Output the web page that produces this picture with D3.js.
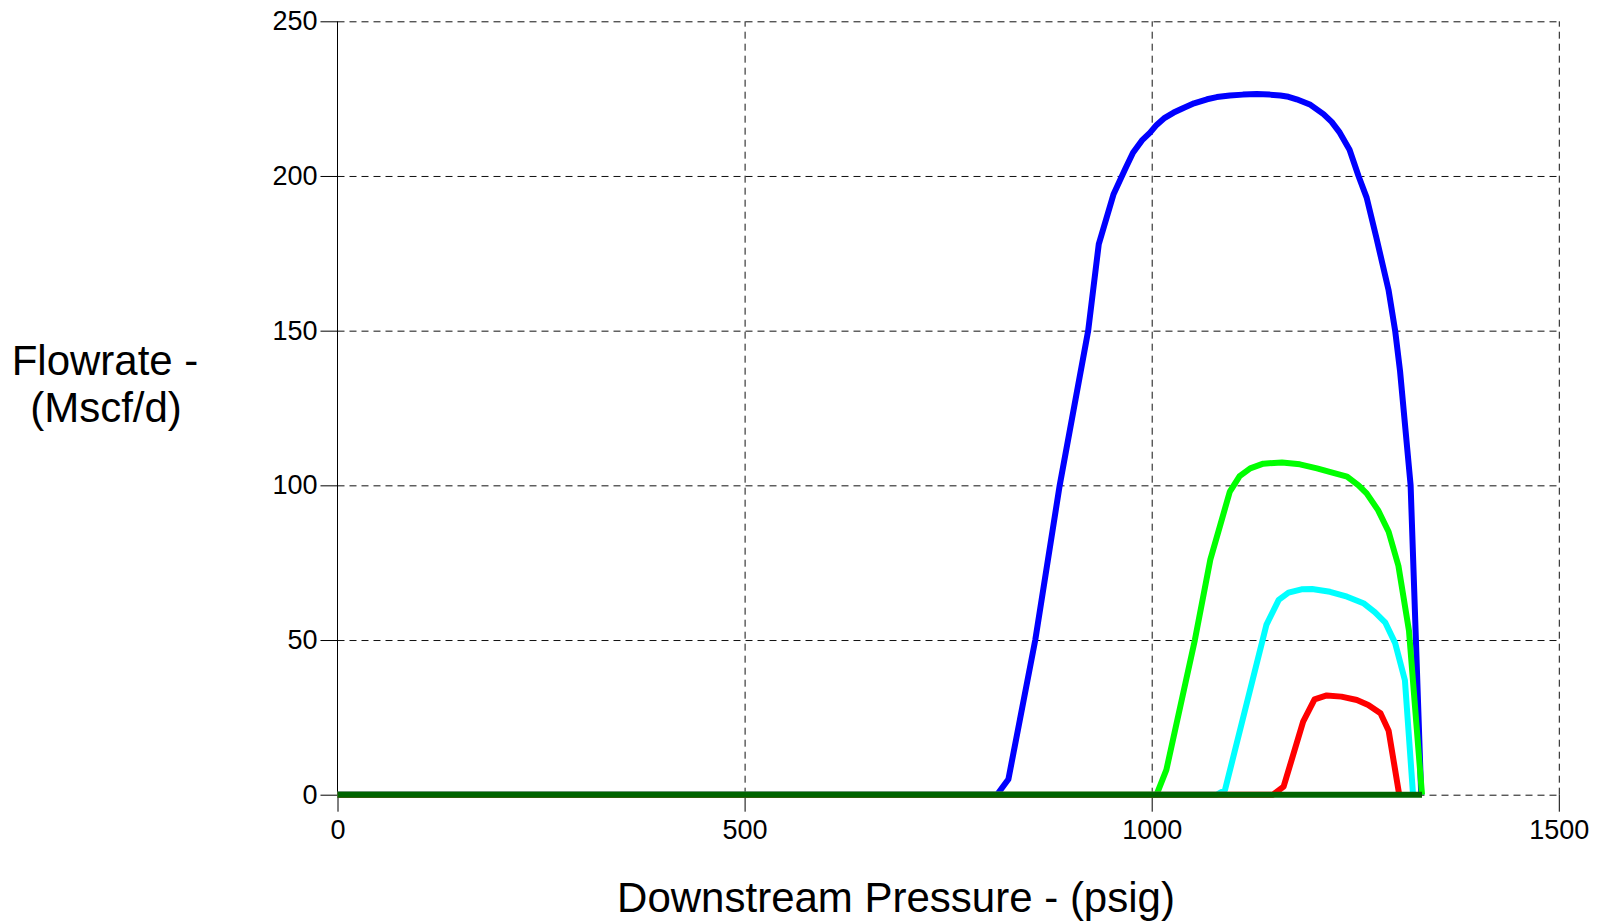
<!DOCTYPE html>
<meta charset="utf-8">
<title>Flowrate vs downstream pressure</title>
<style>

body {
  margin: 0;
  background: #fff;
}

text {
  font-family: "Liberation Sans", Arial, sans-serif;
  fill: #000;
}

.grid line {
  stroke: #111;
  stroke-width: 1px;
  stroke-dasharray: 7,5;
}
.grid .domain {
  display: none;
}

.curve {
  fill: none;
  stroke-width: 6px;
  stroke-linejoin: round;
}

</style>

<body>
<svg width="1604" height="921" id="svg"></svg>
<script src="https://cdn.jsdelivr.net/npm/d3@7"></script>
<script>

// tick values
var xTicks = [0, 500, 1000, 1500];
var yTicks = [0, 50, 100, 150, 200, 250];

// series: downstream pressure (psig) and flowrate (Mscf/d)
var bluePressure = [0, 810, 824, 857, 887, 922, 935, 953, 967, 977, 988, 998, 1006, 1016, 1027, 1039, 1052, 1068, 1080, 1096, 1112, 1129, 1145, 1158, 1168, 1178, 1195, 1211, 1221, 1231, 1243, 1254, 1264, 1276, 1291, 1299, 1305, 1318, 1331];
var blueFlow     = [0, 0, 5, 50, 100, 150, 178, 194, 202, 207.5, 211.5, 214, 216.5, 218.8, 220.5, 222, 223.5, 224.8, 225.5, 226, 226.3, 226.5, 226.3, 226, 225.6, 224.8, 223, 220, 217.5, 214, 208.5, 200, 193, 180, 163, 150, 137, 100, 0];

var greenPressure = [0, 1006, 1018, 1053, 1072, 1084, 1096, 1108, 1121, 1137, 1160, 1182, 1203, 1223, 1240, 1254, 1264, 1278, 1291, 1303, 1316, 1332];
var greenFlow     = [0, 0, 8, 50, 76, 87, 98, 103, 105.5, 107, 107.4, 106.8, 105.5, 104, 102.8, 100, 97.4, 92, 85, 74, 53, 0];

var cyanPressure = [0, 1080, 1090, 1141, 1156, 1168, 1184, 1197, 1219, 1240, 1260, 1274, 1287, 1299, 1311, 1321];
var cyanFlow     = [0, 0, 1.5, 55, 63, 65.3, 66.4, 66.5, 65.6, 64, 61.9, 59, 55.6, 49, 37, 0];

var redPressure = [0, 1149, 1162, 1186, 1200, 1215, 1233, 1252, 1266, 1281, 1291, 1304];
var redFlow     = [0, 0, 2.6, 23.6, 30.8, 32.1, 31.7, 30.6, 29, 26.3, 20.7, 0];

var baselinePressure = [0, 1332];
var baselineFlow     = [0, 0];

var series = [
  {color: "#0000ff", p: bluePressure, q: blueFlow},
  {color: "#00ff00", p: greenPressure, q: greenFlow},
  {color: "#00ffff", p: cyanPressure, q: cyanFlow},
  {color: "#ff0000", p: redPressure, q: redFlow},
  {color: "#006400", p: baselinePressure, q: baselineFlow}
];

var svg = d3.select("svg"),
    margin = {top: 21.3, right: 45.2, bottom: 126.3, left: 337.5},
    width = +svg.attr("width") - margin.left - margin.right,
    height = +svg.attr("height") - margin.top - margin.bottom;

var g = svg.append("g")
    .attr("transform", "translate(" + margin.left + "," + margin.top + ")");

var x = d3.scaleLinear().domain([0, 1500]).range([0, width]);
var y = d3.scaleLinear().domain([0, 250]).range([height, 0]);

// dashed grid
g.append("g")
    .attr("class", "grid")
    .call(d3.axisLeft(y).tickValues(yTicks).tickSize(-width).tickFormat(""));

g.append("g")
    .attr("class", "grid")
    .attr("transform", "translate(0," + height + ")")
    .call(d3.axisBottom(x).tickValues(xTicks.slice(1)).tickSize(height).tickFormat(""))
    .selectAll("line")
    .attr("y2", -height);

// axes
var yAxis = g.append("g")
    .call(d3.axisLeft(y).tickValues(yTicks).tickSize(17).tickPadding(3).tickFormat(d3.format("d")));
yAxis.select(".domain").attr("d", "M0," + height + "V0").attr("stroke", "#000");
yAxis.selectAll("text").style("font-size", "27px");

var xAxis = g.append("g")
    .attr("transform", "translate(0," + height + ")")
    .call(d3.axisBottom(x).tickValues(xTicks).tickSize(17).tickPadding(8).tickFormat(d3.format("d")));
xAxis.select(".domain").remove();
xAxis.selectAll("text").style("font-size", "27px");

// curves
var line = d3.line()
    .x(function(d) { return x(d[0]); })
    .y(function(d) { return y(d[1]); });

series.forEach(function(s) {
  g.append("path")
      .attr("class", "curve")
      .attr("stroke", s.color)
      .attr("d", line(d3.zip(s.p, s.q)));
});

// axis titles
svg.append("text")
    .attr("x", 896)
    .attr("y", 912)
    .attr("text-anchor", "middle")
    .style("font-size", "42px")
    .text("Downstream Pressure - (psig)");

svg.append("text")
    .attr("x", 105)
    .attr("y", 375)
    .attr("text-anchor", "middle")
    .style("font-size", "42px")
    .text("Flowrate -");

svg.append("text")
    .attr("x", 106)
    .attr("y", 422)
    .attr("text-anchor", "middle")
    .style("font-size", "42px")
    .text("(Mscf/d)");

</script>
</body>
